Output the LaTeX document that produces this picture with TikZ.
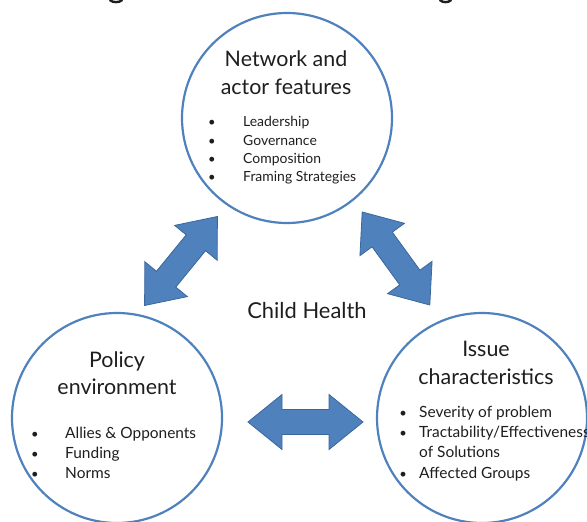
\documentclass[tikz,border=0pt]{standalone}
\usepackage{fontspec}
\setmainfont{Lato}
\definecolor{ringblue}{HTML}{4F81BD}
\definecolor{arrowfill}{HTML}{4F81BD}
\definecolor{arrowedge}{HTML}{3A679C}
\definecolor{ink}{HTML}{1E1E1E}
\tikzset{
  ring/.style={circle, draw=ringblue, line width=2.2bp, minimum size=210bp, inner sep=0pt},
  heading/.style={font=\fontsize{21.5}{26}\selectfont, text=ink, anchor=base, inner sep=0pt},
  item/.style={font=\fontsize{14}{16}\selectfont, text=ink, anchor=base west, inner sep=0pt},
  bigitem/.style={item, font=\fontsize{15.5}{18}\selectfont},
  bullet/.style={font=\fontsize{13}{16}\selectfont, text=ink, anchor=base, inner sep=0pt},
  dblarrow/.pic={
    \filldraw[fill=arrowfill, draw=arrowedge, line width=0.8bp, line join=miter]
      (-57.5,0) -- (-23.5,-27.5) -- (-23.5,-12.5) -- (23.5,-12.5) -- (23.5,-27.5)
      -- (57.5,0) -- (23.5,27.5) -- (23.5,12.5) -- (-23.5,12.5) -- (-23.5,27.5) -- cycle;
  }
}
\begin{document}
\begin{tikzpicture}[x=1bp, y=-1bp]
  \useasboundingbox (0,0) rectangle (587,522);

  % descender fragments of a heading line cut at the top edge
  \draw[ink, line width=2.4bp, line cap=round] (110,0.2) .. controls (113,2.8) and (119,2.8) .. (122,0.2);
  \draw[ink, line width=2.4bp, line cap=round] (440,0.2) .. controls (443,2.8) and (448,2.8) .. (451,0.2);

  % the three factor circles
  \node[ring] (net) at (287,118) {};
  \node[ring] (pol) at (117,418) {};
  \node[ring] (iss) at (482,418) {};

  % two-headed block arrows between the circles
  \path (181,261) pic[rotate=50.7] {dblarrow};
  \path (396,258.5) pic[rotate=-54] {dblarrow};
  \path (305.5,422) pic {dblarrow};

  % centre label
  \node[heading, font=\fontsize{22}{26}\selectfont] (core) at (307,318) {Child Health};

  % network and actor features
  \node[heading] (netA) at (286,67) {Network and};
  \node[heading] (netB) at (286,95) {actor features};
  \foreach \txt [count=\i] in {Leadership, Governance, Composition, Framing Strategies} {
    \node[bullet] (netd\i) at (212,{127+18.3*(\i-1)}) {\textbullet};
    \node[item] (neti\i) at (243,{127+18.3*(\i-1)}) {\txt};
  }

  % policy environment
  \node[heading] (polA) at (117,367) {Policy};
  \node[heading] (polB) at (117,394) {environment};
  \foreach \txt [count=\i] in {Allies \& Opponents, Funding, Norms} {
    \node[bullet] (pold\i) at (35,{438+20*(\i-1)}) {\textbullet};
    \node[bigitem] (poli\i) at (65,{438+20*(\i-1)}) {\txt};
  }

  % issue characteristics
  \node[heading] (issA) at (486,356) {Issue};
  \node[heading] (issB) at (486,384) {characteristics};
  \node[bullet] (issd1) at (403,417) {\textbullet};
  \node[bigitem] (issi1) at (419,417) {Severity of problem};
  \node[bullet] (issd2) at (403,437) {\textbullet};
  \node[bigitem] (issi2) at (419,437) {Tractability/Effectiveness};
  \node[bigitem] (issi3) at (419,457) {of Solutions};
  \node[bullet] (issd4) at (403,478) {\textbullet};
  \node[bigitem] (issi4) at (419,478) {Affected Groups};
\end{tikzpicture}
\end{document}
